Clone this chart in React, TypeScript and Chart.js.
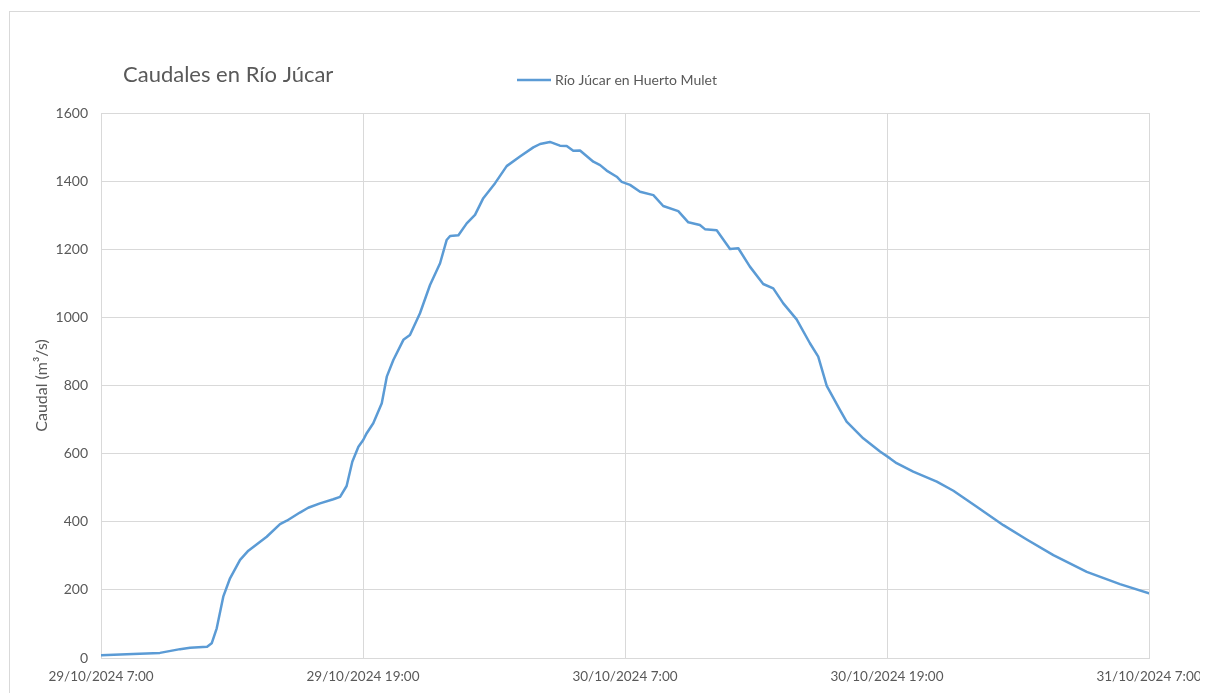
import React, { useEffect, useRef } from "react";
import { Chart, registerables } from "chart.js";

Chart.register(...registerables);

const chartTitle = "Caudales en Río Júcar";
const seriesName = "Río Júcar en Huerto Mulet";
const yAxisTitle = "Caudal (m³/s)";

// hours since 29/10/2024 7:00
const hours = [
  0, 1.47, 2.7, 3.62, 4.08, 4.86, 5.07, 5.3, 5.6, 5.91, 6.37, 6.75, 7.59, 8.2, 8.51, 9.11, 9.49,
  10.03, 10.64, 10.95, 11.25, 11.51, 11.79, 12.01, 12.17, 12.47, 12.86, 13.09, 13.39, 13.85, 14.15,
  14.61, 15.07, 15.53, 15.83, 15.99, 16.37, 16.75, 17.13, 17.51, 18.05, 18.58, 19.19, 19.8, 20.11,
  20.56, 21.02, 21.33, 21.63, 21.94, 22.55, 22.86, 23.16, 23.62, 23.85, 24.23, 24.69, 25.3, 25.75,
  26.44, 26.9, 27.43, 27.66, 28.2, 28.81, 29.19, 29.72, 30.33, 30.79, 31.25, 31.86, 32.47, 32.85,
  33.24, 33.85, 34.15, 34.91, 35.68, 36.14, 36.44, 37.2, 38.28, 39.04, 40.11, 41.33, 42.4, 43.62,
  45.15, 46.67, 48,
];

// flow (m³/s)
const flow = [
  8, 12, 15, 26, 30, 33, 43, 87, 180, 234, 288, 315, 356, 393, 403, 427, 441,
  454, 466, 473, 505, 576, 620, 640, 660, 689, 748, 826, 875, 934, 948,
  1012, 1095, 1159, 1227, 1239, 1241, 1276, 1301, 1350, 1394, 1444, 1472, 1499, 1509,
  1515, 1504, 1503, 1489, 1490, 1457, 1447, 1431, 1413, 1398, 1389, 1369, 1359, 1327,
  1312, 1279, 1271, 1259, 1256, 1201, 1203, 1149, 1098, 1085, 1041, 994, 924, 885,
  799, 728, 694, 645, 606, 586, 572, 547, 518, 491, 444, 390, 348, 302,
  253, 217, 190,
];

const xTickValues = [0, 12, 24, 36, 48];
const xTickLabels = [
  "29/10/2024 7:00",
  "29/10/2024 19:00",
  "30/10/2024 7:00",
  "30/10/2024 19:00",
  "31/10/2024 7:00",
];

const FONT = "Lato, 'Open Sans', sans-serif";
const TEXT = "#595959";
const GRID = "#d9d9d9";
const LINE = "#5b9bd5";

const decorPlugin = {
  id: "decor",
  beforeDraw(chart: any) {
    const ctx = chart.ctx;
    ctx.save();
    ctx.fillStyle = "#ffffff";
    ctx.fillRect(0, 0, chart.width, chart.height);
    ctx.strokeStyle = GRID;
    ctx.lineWidth = 1;
    ctx.strokeRect(1.5, 3.5, 1400, 1000);
    ctx.restore();
  },
  afterDraw(chart: any) {
    const ctx = chart.ctx;
    ctx.save();
    ctx.fillStyle = TEXT;
    ctx.textBaseline = "middle";
    ctx.textAlign = "left";
    ctx.font = `22px ${FONT}`;
    ctx.fillText(chartTitle, 115, 67);
    // legend
    ctx.strokeStyle = LINE;
    ctx.lineWidth = 2.5;
    ctx.beginPath();
    ctx.moveTo(509, 72);
    ctx.lineTo(543, 72);
    ctx.stroke();
    ctx.font = `14px ${FONT}`;
    ctx.fillText(seriesName, 547, 72);
    ctx.restore();
  },
};

export default function App() {
  const ref = useRef<HTMLCanvasElement>(null);
  useEffect(() => {
    if (!ref.current) return;
    const data = hours.map((h, i) => ({ x: h, y: flow[i] }));
    const chart = new Chart(ref.current, {
      type: "line",
      data: {
        datasets: [
          {
            label: seriesName,
            data,
            borderColor: LINE,
            backgroundColor: LINE,
            borderWidth: 2.5,
            pointRadius: 0,
            tension: 0,
            borderJoinStyle: "round",
            borderCapStyle: "round",
          },
        ],
      },
      options: {
        responsive: false,
        animation: false,
        layout: { padding: { left: 0, top: 105, right: 59, bottom: 0 } },
        plugins: {
          legend: { display: false },
          title: { display: false },
          tooltip: { enabled: false },
        },
        scales: {
          x: {
            type: "linear",
            min: 0,
            max: 48,
            afterFit: (s: any) => {
              s.height = 35;
              s.paddingLeft = 0;
              s.paddingRight = 0;
            },
            afterBuildTicks: (s: any) => {
              s.ticks = xTickValues.map((v) => ({ value: v }));
            },
            grid: { color: GRID, drawTicks: false, lineWidth: 1 },
            border: { color: GRID, width: 1 },
            ticks: {
              padding: 11,
              maxRotation: 0,
              autoSkip: false,
              color: TEXT,
              font: { family: FONT, size: 13.5 },
              callback: (v: any) => {
                const i = xTickValues.indexOf(Number(v));
                return i >= 0 ? xTickLabels[i] : "";
              },
            },
          },
          y: {
            min: 0,
            max: 1600,
            afterFit: (s: any) => {
              s.width = 93;
              s.paddingTop = 0;
              s.paddingBottom = 0;
            },
            grid: { color: GRID, drawTicks: false, lineWidth: 1 },
            border: { color: GRID, width: 1 },
            ticks: {
              stepSize: 200,
              padding: 13,
              color: TEXT,
              font: { family: FONT, size: 14 },
              callback: (v: any) => String(v),
            },
            title: {
              display: true,
              text: yAxisTitle,
              color: TEXT,
              font: { family: FONT, size: 16 },
              padding: { top: 24, bottom: 0 },
            },
          },
        },
      },
      plugins: [decorPlugin],
    });
    return () => chart.destroy();
  }, []);
  return (
    <div style={{ width: 1200, height: 685 }}>
      <canvas ref={ref} width={1200} height={685} style={{ display: "block" }} />
    </div>
  );
}
